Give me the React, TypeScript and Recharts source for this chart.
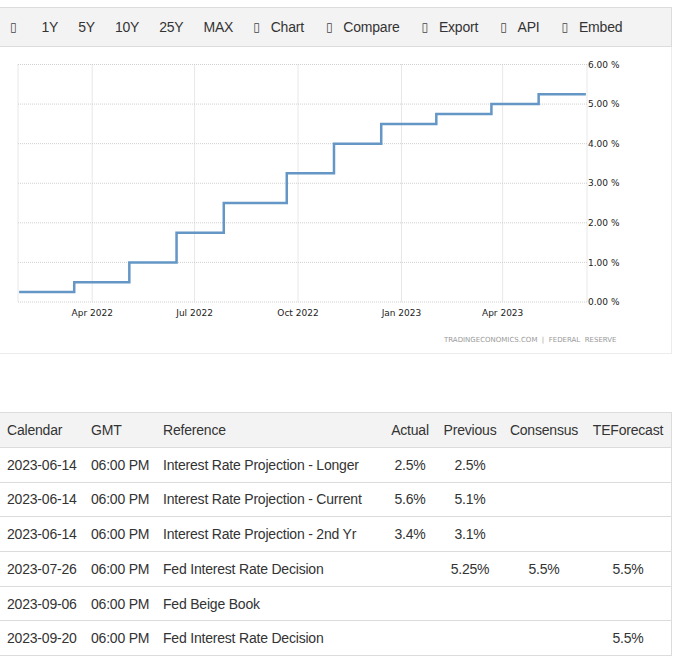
import { CartesianGrid, Line, LineChart, XAxis, YAxis } from "recharts";

// FOMC decision dates and the upper bound of the fed funds target range (%)
const decisionDates = [
  "2022-01-26", "2022-03-16", "2022-05-04", "2022-06-15", "2022-07-27", "2022-09-21",
  "2022-11-02", "2022-12-14", "2023-02-01", "2023-03-22", "2023-05-03", "2023-06-14",
];
const fedFundsRate = [0.25, 0.5, 1, 1.75, 2.5, 3.25, 4, 4.5, 4.75, 5, 5.25, 5.25];

const xTickDates = ["2022-04-01", "2022-07-01", "2022-10-01", "2023-01-01", "2023-04-01"];
const xRangeDates = ["2022-01-25", "2023-06-15"];
const yTicks = [0, 1, 2, 3, 4, 5, 6];

const rangeButtons = ["1Y", "5Y", "10Y", "25Y", "MAX"];
const toolButtons = ["Chart", "Compare", "Export", "API", "Embed"];

// calendar table
const tableHeaders = ["Calendar", "GMT", "Reference", "Actual", "Previous", "Consensus", "TEForecast"];
const calendarDates = ["2023-06-14", "2023-06-14", "2023-06-14", "2023-07-26", "2023-09-06", "2023-09-20"];
const calendarTimes = ["06:00 PM", "06:00 PM", "06:00 PM", "06:00 PM", "06:00 PM", "06:00 PM"];
const calendarEvents = [
  "Interest Rate Projection - Longer",
  "Interest Rate Projection - Current",
  "Interest Rate Projection - 2nd Yr",
  "Fed Interest Rate Decision",
  "Fed Beige Book",
  "Fed Interest Rate Decision",
];
const actualValues = ["2.5%", "5.6%", "3.4%", "", "", ""];
const previousValues = ["2.5%", "5.1%", "3.1%", "5.25%", "", ""];
const consensusValues = ["", "", "", "5.5%", "", ""];
const forecastValues = ["", "", "", "5.5%", "", "5.5%"];

const MONTHS = ["Jan", "Feb", "Mar", "Apr", "May", "Jun", "Jul", "Aug", "Sep", "Oct", "Nov", "Dec"];
const ts = (d: string) => Date.parse(d + "T00:00:00Z");
const fmtMonth = (v: number) => {
  const d = new Date(v);
  return `${MONTHS[d.getUTCMonth()]} ${d.getUTCFullYear()}`;
};

const data = decisionDates.map((d, i) => ({ t: ts(d), rate: fedFundsRate[i] }));

// column layout of the calendar table: [left, width, align]
const cols: [number, number, "left" | "center"][] = [
  [0, 84, "left"],
  [84, 72, "left"],
  [156, 228, "left"],
  [384, 52, "center"],
  [436, 68, "center"],
  [504, 80, "center"],
  [584, 88, "center"],
];

const textStyle = {
  fontFamily: "'Liberation Sans', Arial, sans-serif",
  fontSize: 14,
  letterSpacing: -0.2,
  color: "#333",
};

function Row({ cells, top, height, header }: { cells: string[]; top: number; height: number; header?: boolean }) {
  return (
    <div
      style={{
        position: "absolute",
        left: 0,
        top,
        width: 672,
        height,
        boxSizing: "border-box",
        background: header ? "#f3f3f3" : "#fff",
        borderTop: header ? "1px solid #dcdcdc" : undefined,
        borderBottom: "1px solid #dcdcdc",
        borderRight: "1px solid #dcdcdc",
      }}
    >
      {cells.map((c, i) => (
        <div
          key={i}
          style={{
            ...textStyle,
            position: "absolute",
            left: cols[i][0],
            width: cols[i][1],
            top: header ? -1 : 0,
            bottom: 0,
            display: "flex",
            alignItems: "center",
            justifyContent: cols[i][2] === "left" ? "flex-start" : "center",
            paddingLeft: cols[i][2] === "left" ? 7 : 0,
            boxSizing: "border-box",
            whiteSpace: "nowrap",
          }}
        >
          {c}
        </div>
      ))}
    </div>
  );
}

const iconStyle = { fontFamily: "'DejaVu Sans'", fontSize: 12, color: "#444" };

export default function App() {
  const rowH = 34.67;
  return (
    <div style={{ position: "absolute", left: 0, top: 0, width: 686, height: 658, overflow: "hidden", background: "#fff" }}>
      {/* toolbar */}
      <div
        style={{
          position: "absolute",
          left: -1,
          top: 7,
          width: 673,
          height: 40,
          boxSizing: "border-box",
          background: "#f3f3f3",
          border: "1px solid #dcdcdc",
          display: "flex",
          alignItems: "center",
          ...textStyle,
        }}
      >
        <span style={{ ...iconStyle, marginLeft: 10, marginRight: 25 }}>▯</span>
        {rangeButtons.map((b) => (
          <span key={b} style={{ marginRight: 20 }}>{b}</span>
        ))}
        {toolButtons.map((b) => (
          <span key={b} style={{ marginRight: 22, display: "flex", alignItems: "center" }}>
            <span style={{ ...iconStyle, marginRight: 11 }}>▯</span>
            {b}
          </span>
        ))}
      </div>

      {/* chart panel */}
      <div
        style={{
          position: "absolute",
          left: -1,
          top: 47,
          width: 673,
          height: 307,
          boxSizing: "border-box",
          borderRight: "1px solid #ececec",
          borderBottom: "1px solid #ececec",
        }}
      >
        <div style={{ position: "absolute", left: 1, top: -1 }}>
          <LineChart width={671} height={307} data={data} margin={{ top: 18.5, right: 0, left: 18, bottom: 21 }}>
            <CartesianGrid stroke="#d0d0d0" strokeDasharray="1 1" />
            <XAxis
              dataKey="t"
              type="number"
              scale="time"
              domain={[ts(xRangeDates[0]), ts(xRangeDates[1])]}
              ticks={xTickDates.map(ts)}
              tickFormatter={fmtMonth}
              axisLine={false}
              tickLine={false}
              tickSize={0}
              tickMargin={8}
              height={30}
              tick={{ fontSize: 9, fill: "#222", fontFamily: "'DejaVu Sans'" }}
            />
            <YAxis
              orientation="right"
              domain={[0, 6]}
              ticks={yTicks}
              tickFormatter={(v: number) => `${v.toFixed(2)} %`}
              axisLine={false}
              tickLine={false}
              tickSize={0}
              tickMargin={1}
              width={84}
              tick={{ fontSize: 9, fill: "#222", fontFamily: "'DejaVu Sans'" }}
            />
            <Line
              type="stepAfter"
              dataKey="rate"
              stroke="#6496c6"
              strokeWidth={2.5}
              dot={false}
              isAnimationActive={false}
            />
          </LineChart>
        </div>
        <div
          style={{
            position: "absolute",
            left: 445,
            top: 289,
            fontFamily: "'DejaVu Sans'",
            fontSize: 7,
            color: "#9a9a9a",
            whiteSpace: "pre",
          }}
        >
          {"TRADINGECONOMICS.COM  |  FEDERAL  RESERVE"}
        </div>
      </div>

      {/* calendar table */}
      <Row cells={tableHeaders} top={412} height={36} header />
      {calendarDates.map((d, i) => (
        <Row
          key={i}
          top={448 + i * rowH}
          height={rowH}
          cells={[d, calendarTimes[i], calendarEvents[i], actualValues[i], previousValues[i], consensusValues[i], forecastValues[i]]}
        />
      ))}
    </div>
  );
}
